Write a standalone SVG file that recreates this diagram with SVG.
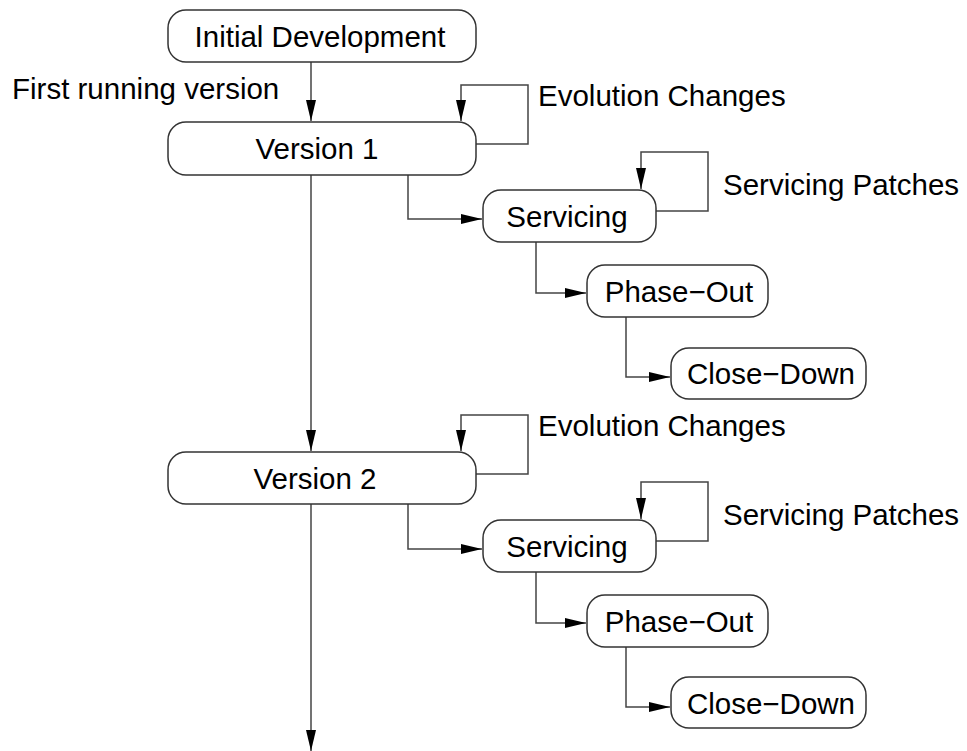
<svg xmlns="http://www.w3.org/2000/svg" width="967" height="751" viewBox="0 0 967 751">
  <style>
    .box { fill: #ffffff; stroke: #333333; stroke-width: 1.5; }
    .wire { fill: none; stroke: #444444; stroke-width: 1.5; }
    .arrow { marker-end: url(#head); }
    text { font-family: "Liberation Sans", Arial, sans-serif; font-size: 29.5px; fill: #000000; }
    .mid { text-anchor: middle; }
  </style>
  <defs>
    <marker id="head" viewBox="0 0 21 10" markerWidth="21" markerHeight="10" refX="21" refY="5" orient="auto" markerUnits="userSpaceOnUse">
      <path d="M0,0 L21,5 L0,10 z" fill="#000000"/>
    </marker>
  </defs>

  <rect width="967" height="751" fill="#ffffff"/>

  <!-- connectors -->
  <g id="connectors">
    <path class="wire arrow" d="M311,62 V121"/>
    <text x="12" y="99">First running version</text>
    <!-- release 1 -->
    <path class="wire arrow" d="M476,144 H528 V85 H461 V121"/>
    <path class="wire arrow" d="M311,175 V451"/>
    <path class="wire arrow" d="M408,175 V219 H482"/>
    <path class="wire arrow" d="M656,211 H708 V152 H641 V189"/>
    <path class="wire arrow" d="M536,242 V293 H586"/>
    <path class="wire arrow" d="M626,317 V377 H670"/>
    <!-- release 2 -->
    <path class="wire arrow" d="M476,474 H528 V415 H461 V451"/>
    <path class="wire arrow" d="M311,504 V751"/>
    <path class="wire arrow" d="M408,504 V549 H482"/>
    <path class="wire arrow" d="M656,541 H708 V482 H641 V519"/>
    <path class="wire arrow" d="M536,572 V623 H586"/>
    <path class="wire arrow" d="M626,647 V707 H670"/>
    <!-- loop labels -->
    <text x="538" y="106">Evolution Changes</text>
    <text x="723" y="195">Servicing Patches</text>
    <text x="538" y="436">Evolution Changes</text>
    <text x="723" y="525">Servicing Patches</text>
  </g>

  <g id="initial">
    <rect class="box" x="168" y="10" width="308" height="52" rx="18"/>
    <text class="mid" x="320" y="47">Initial Development</text>
  </g>

  <g id="version1">
    <rect class="box" x="168" y="122" width="308" height="53" rx="18"/>
    <text class="mid" x="317" y="159">Version 1</text>
  </g>
  <g id="servicing1">
    <rect class="box" x="483" y="190" width="173" height="52" rx="18"/>
    <text class="mid" x="567" y="227">Servicing</text>
  </g>
  <g id="phaseout1">
    <rect class="box" x="587" y="265" width="181" height="52" rx="18"/>
    <text class="mid" x="679" y="302">Phase−Out</text>
  </g>
  <g id="closedown1">
    <rect class="box" x="671" y="348" width="195" height="51" rx="18"/>
    <text class="mid" x="771" y="384">Close−Down</text>
  </g>

  <g id="version2">
    <rect class="box" x="168" y="452" width="308" height="52" rx="18"/>
    <text class="mid" x="315" y="489">Version 2</text>
  </g>
  <g id="servicing2">
    <rect class="box" x="483" y="520" width="173" height="52" rx="18"/>
    <text class="mid" x="567" y="557">Servicing</text>
  </g>
  <g id="phaseout2">
    <rect class="box" x="587" y="595" width="181" height="52" rx="18"/>
    <text class="mid" x="679" y="632">Phase−Out</text>
  </g>
  <g id="closedown2">
    <rect class="box" x="671" y="677" width="195" height="51" rx="18"/>
    <text class="mid" x="771" y="714">Close−Down</text>
  </g>
</svg>
